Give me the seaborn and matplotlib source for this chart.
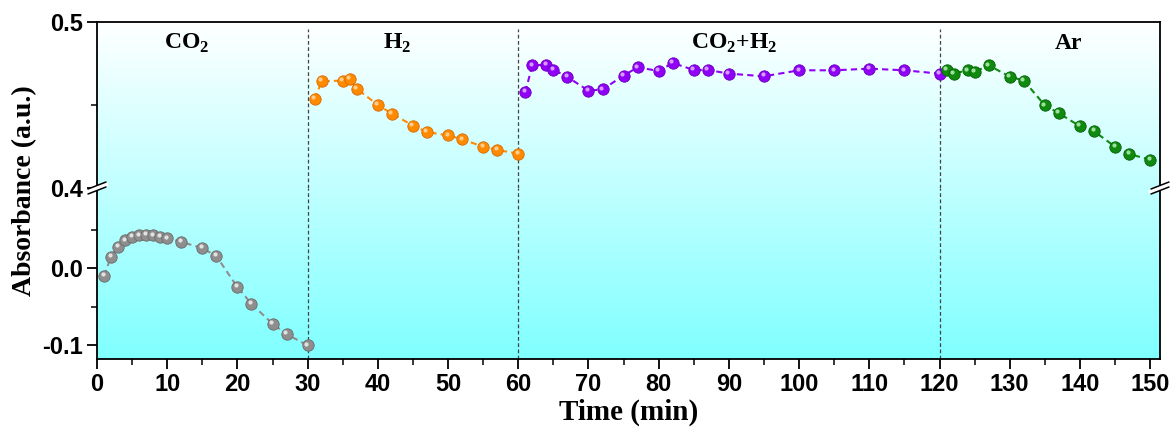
import numpy as np
import pandas as pd
import seaborn as sns
import matplotlib.pyplot as plt
from matplotlib.ticker import FixedLocator, FormatStrFormatter
from matplotlib.lines import Line2D
from matplotlib.transforms import offset_copy

sns.set_style("ticks")
plt.rcParams['font.family'] = ['Liberation Sans', 'DejaVu Sans']
plt.rcParams['text.color'] = 'black'
plt.rcParams['axes.labelcolor'] = 'black'
plt.rcParams['mathtext.fontset'] = 'custom'
plt.rcParams['mathtext.rm'] = 'Liberation Serif'
plt.rcParams['mathtext.bf'] = 'Liberation Serif:bold'

# data
t_co2 = [1, 2, 3, 4, 5, 6, 7, 8, 9, 10, 12, 15, 17, 20, 22, 25, 27, 30]
a_co2 = [-0.010, 0.015, 0.028, 0.036, 0.040, 0.0425, 0.043, 0.0425, 0.041, 0.0385,
         0.034, 0.026, 0.0156, -0.0247, -0.0464, -0.0723, -0.0857, -0.1004]

t_h2 = [31, 32, 35, 36, 37, 40, 42, 45, 47, 50, 52, 55, 57, 60]
a_h2 = [0.4536, 0.4643, 0.4647, 0.4658, 0.4598, 0.4500, 0.4448, 0.4376, 0.4337,
        0.4317, 0.4293, 0.4249, 0.4229, 0.4207]

t_mix = [61, 62, 64, 65, 67, 70, 72, 75, 77, 80, 82, 85, 87, 90, 95, 100, 105, 110, 115, 120]
a_mix = [0.4578, 0.4739, 0.4743, 0.4713, 0.4669, 0.4586, 0.4594, 0.4677, 0.4727, 0.4705,
         0.4753, 0.4711, 0.4711, 0.4689, 0.4673, 0.4709, 0.4709, 0.4719, 0.4709, 0.4689]

t_ar = [121, 122, 124, 125, 127, 130, 132, 135, 137, 140, 142, 145, 147, 150]
a_ar = [0.4711, 0.4689, 0.4709, 0.4699, 0.4739, 0.4671, 0.4647, 0.4498, 0.4450,
        0.4372, 0.4342, 0.4249, 0.4205, 0.4170]

phase_names = [r'CO$_\mathbf{2}$', r'H$_\mathbf{2}$', r'CO$_\mathbf{2}$+H$_\mathbf{2}$', 'Ar']
phase_x = [12.8, 42.7, 90.7, 138.3]
switch_times = [30, 60, 120]

W, H = 1174, 430
fig = plt.figure(figsize=(W / 100, H / 100), dpi=100)
left, right = 97 / W, 1160 / W
top, brk, bottom = 1 - 22 / H, 1 - 188 / H, 1 - 359 / H

# gradient background behind the plot area
bg = fig.add_axes([left, bottom, right - left, top - bottom], zorder=0)
grad = np.linspace(0, 1, 256)
rgb = np.ones((256, 1, 3))
rgb[:, 0, 0] = 1 - 0.5 * grad
bg.imshow(rgb, aspect='auto', extent=[0, 1, 0, 1], origin='upper')
bg.axis('off')

ax_top = fig.add_axes([left, brk, right - left, top - brk], zorder=1)
ax_bot = fig.add_axes([left, bottom, right - left, brk - bottom], zorder=1)
for ax in (ax_top, ax_bot):
    ax.set_facecolor('none')
    ax.set_xlim(0, 151.4)
    for s in ax.spines.values():
        s.set_linewidth(1.3)
        s.set_color('black')
    ax.tick_params(axis='both', which='major', direction='out', length=7, width=1.3,
                   labelsize=17, colors='black', pad=3)
    ax.tick_params(axis='both', which='minor', direction='out', length=4, width=1.3)

ax_top.set_ylim(0.4, 0.5)
ax_bot.set_ylim(-0.118, 0.104)
ax_top.spines['bottom'].set_visible(False)
ax_bot.spines['top'].set_visible(False)
ax_top.tick_params(axis='x', which='both', bottom=False, labelbottom=False)

ax_top.yaxis.set_major_locator(FixedLocator([0.4, 0.5]))
ax_top.yaxis.set_minor_locator(FixedLocator([0.45]))
ax_bot.yaxis.set_major_locator(FixedLocator([-0.1, 0.0]))
ax_bot.yaxis.set_minor_locator(FixedLocator([-0.05, 0.05]))
ax_bot.xaxis.set_major_locator(FixedLocator(np.arange(0, 151, 10)))
ax_bot.xaxis.set_minor_locator(FixedLocator(np.arange(5, 151, 10)))
for ax in (ax_top, ax_bot):
    ax.yaxis.set_major_formatter(FormatStrFormatter('%.1f'))
    for lab in ax.get_xticklabels() + ax.get_yticklabels():
        lab.set_fontweight('bold')

for t in switch_times:
    ax_top.axvline(t, ymax=0.955, color='#444444', lw=0.9, ls=(0, (3, 2)), zorder=1)
    ax_bot.axvline(t, color='#444444', lw=0.9, ls=(0, (3, 2)), zorder=1)


def sphere_series(ax, t, a, color, dark, light):
    df = pd.DataFrame({'t': t, 'a': a})
    sns.lineplot(data=df, x='t', y='a', ax=ax, color=color, lw=1.5,
                 linestyle=(0, (3, 2)), zorder=2)
    ax.plot(t, a, 'o', ms=8.2, mfc=color, mec=dark, mew=0.6, zorder=3)
    hl = offset_copy(ax.transData, fig=fig, x=-1.5, y=1.8, units='dots')
    ax.plot(t, a, 'o', ms=3.0, mfc=light, mec='none', alpha=0.85, transform=hl, zorder=4)


sphere_series(ax_bot, t_co2, a_co2, '#8e8e8e', '#6a6a6a', '#f2f2f2')
sphere_series(ax_top, t_h2, a_h2, '#ff8a00', '#d86a00', '#ffd9a8')
sphere_series(ax_top, t_mix, a_mix, '#8f00f5', '#6a00c0', '#e2b8ff')
sphere_series(ax_top, t_ar, a_ar, '#0f8a0f', '#066006', '#b8f0b8')
for ax in (ax_top, ax_bot):
    ax.set_xlabel('')
    ax.set_ylabel('')

for name, x in zip(phase_names, phase_x):
    ax_top.text(x, 0.487, name, ha='center', va='center', fontsize=17,
                family='Liberation Serif', fontweight='bold', color='black')

ax_bot.set_xlabel('Time (min)', fontsize=21, family='Liberation Serif',
                  fontweight='bold', labelpad=2, color='black')
fig.text(25 / W, (top + bottom) / 2, 'Absorbance (a.u.)', rotation=90, ha='center',
         va='center', fontsize=20, family='Liberation Serif', fontweight='bold',
         color='black')

# axis break marks on both side spines
for xs in (left, right):
    fig.add_artist(Line2D([xs - 9 / W, xs + 9 / W], [brk - 3.5 / H, brk + 3.5 / H],
                          color='white', lw=3.5, transform=fig.transFigure, zorder=5))
    for dy in (-2.5, 2.5):
        fig.add_artist(Line2D([xs - 9 / W, xs + 9 / W],
                              [brk - 3.5 / H + dy / H, brk + 3.5 / H + dy / H],
                              color='black', lw=1.1, transform=fig.transFigure, zorder=6))

fig.savefig('out.png', dpi=100)
